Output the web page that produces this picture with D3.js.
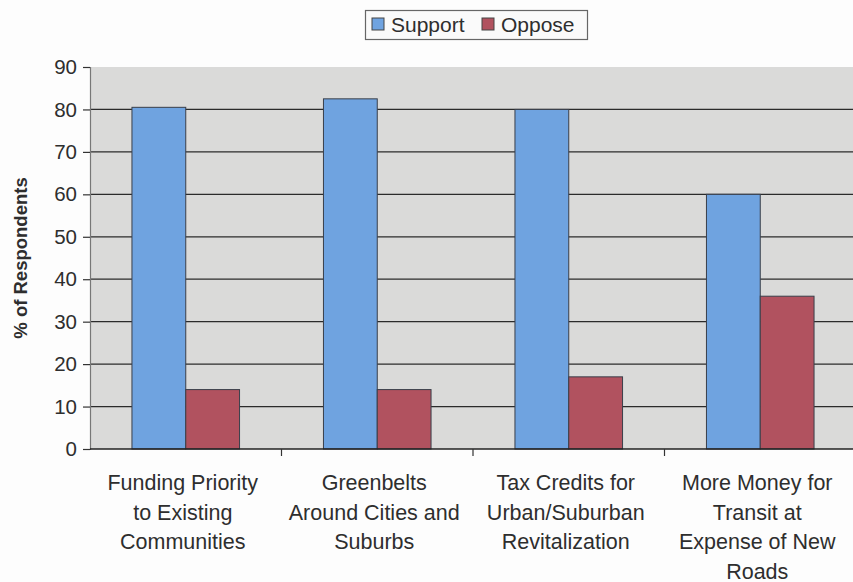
<!DOCTYPE html>
<html>
<head>
<meta charset="utf-8">
<script src="https://cdn.jsdelivr.net/npm/d3@7"></script>
<style>
  html, body { margin: 0; padding: 0; background: #fdfdfd; }
  svg { display: block; font-family: "Liberation Sans", Arial, sans-serif; }
</style>
</head>
<body>
<svg id="chart" width="853" height="582"></svg>
<script>
// Survey results: share of respondents supporting / opposing each policy
const categories = [
  ["Funding Priority", "to Existing", "Communities"],
  ["Greenbelts", "Around Cities and", "Suburbs"],
  ["Tax Credits for", "Urban/Suburban", "Revitalization"],
  ["More Money for", "Transit at", "Expense of New", "Roads"]
];
const seriesNames = ["Support", "Oppose"];
const support = [80.5, 82.5, 80, 60];
const oppose = [14, 14, 17, 36];
const yTicks = [0, 10, 20, 30, 40, 50, 60, 70, 80, 90];
const colors = ["#6fa3e0", "#b1525f"];

const svg = d3.select("#chart");
const margin = { left: 90, right: -3, top: 67, bottom: 133 };
const W = 853, H = 582;
const plotW = W - margin.left - margin.right;
const plotH = H - margin.top - margin.bottom;

const x0 = d3.scaleBand().domain(d3.range(categories.length))
  .range([margin.left, margin.left + plotW]).paddingInner(0).paddingOuter(0);
const x1 = d3.scaleBand().domain(seriesNames)
  .range([0, x0.bandwidth()]).paddingInner(0).paddingOuter(0.78);
const y = d3.scaleLinear().domain([0, 90]).range([margin.top + plotH, margin.top]);

// plot background
svg.append("rect")
  .attr("x", margin.left).attr("y", margin.top)
  .attr("width", plotW).attr("height", plotH)
  .attr("fill", "#dadad9");

// horizontal gridlines
svg.append("g").selectAll("line")
  .data(yTicks.filter(t => t > 0 && t < 90))
  .join("line")
  .attr("x1", margin.left).attr("x2", margin.left + plotW)
  .attr("y1", d => y(d)).attr("y2", d => y(d))
  .attr("stroke", "#2b2b2b").attr("stroke-width", 1.3);

// bars
const rows = categories.map((c, i) => ({ i, vals: [support[i], oppose[i]] }));
const groups = svg.append("g").selectAll("g")
  .data(rows).join("g")
  .attr("transform", d => `translate(${x0(d.i)},0)`);
groups.selectAll("rect")
  .data(d => d.vals.map((v, k) => ({ v, k })))
  .join("rect")
  .attr("x", d => x1(seriesNames[d.k]))
  .attr("width", x1.bandwidth())
  .attr("y", d => y(d.v))
  .attr("height", d => y(0) - y(d.v))
  .attr("fill", d => colors[d.k])
  .attr("stroke", "#3a3f4a").attr("stroke-width", 1);

// y axis
const yAxis = d3.axisLeft(y).tickValues(yTicks).tickSize(7).tickPadding(6);
const gy = svg.append("g").attr("transform", `translate(${margin.left},0)`).call(yAxis);
gy.select(".domain").attr("stroke", "#777").attr("stroke-width", 1.2);
gy.selectAll(".tick line").attr("stroke", "#333").attr("stroke-width", 1.2);
gy.selectAll(".tick text").attr("fill", "#2e2e2e").attr("font-size", 20.5)
  .attr("font-family", "Liberation Sans, Arial, sans-serif");

// x axis baseline and category separators
svg.append("line")
  .attr("x1", margin.left).attr("x2", margin.left + plotW)
  .attr("y1", y(0)).attr("y2", y(0))
  .attr("stroke", "#222").attr("stroke-width", 1.3);
svg.append("g").selectAll("line")
  .data(d3.range(1, categories.length))
  .join("line")
  .attr("x1", d => x0(d)).attr("x2", d => x0(d))
  .attr("y1", y(0)).attr("y2", y(0) + 7)
  .attr("stroke", "#333").attr("stroke-width", 1.2);

// category labels
const catLabels = svg.append("g").selectAll("text")
  .data(categories).join("text")
  .attr("x", (d, i) => x0(i) + x0.bandwidth() / 2 - 3)
  .attr("y", y(0) + 41)
  .attr("text-anchor", "middle")
  .attr("font-size", 21.5)
  .attr("fill", "#2e2e2e");
catLabels.selectAll("tspan")
  .data(d => d).join("tspan")
  .attr("x", function () { return d3.select(this.parentNode).attr("x"); })
  .attr("dy", (d, k) => k === 0 ? 0 : 29.5)
  .text(d => d);

// y axis title
svg.append("text")
  .attr("transform", `translate(27,${margin.top + plotH / 2}) rotate(-90)`)
  .attr("text-anchor", "middle")
  .attr("font-size", 18.5).attr("font-weight", "bold")
  .attr("fill", "#2e2e2e")
  .text("% of Respondents");

// legend
const legend = svg.append("g");
legend.append("rect")
  .attr("x", 365.5).attr("y", 10.5).attr("width", 222).attr("height", 29)
  .attr("fill", "#fafafa").attr("stroke", "#666").attr("stroke-width", 1.2);
const items = [{ name: seriesNames[0], x: 372, c: colors[0] }, { name: seriesNames[1], x: 482, c: colors[1] }];
items.forEach(it => {
  legend.append("rect")
    .attr("x", it.x).attr("y", 18).attr("width", 12).attr("height", 12)
    .attr("fill", it.c).attr("stroke", "#444").attr("stroke-width", 1);
  legend.append("text")
    .attr("x", it.x + 19).attr("y", 32)
    .attr("font-size", 21).attr("fill", "#2e2e2e")
    .text(it.name);
});
</script>
</body>
</html>
